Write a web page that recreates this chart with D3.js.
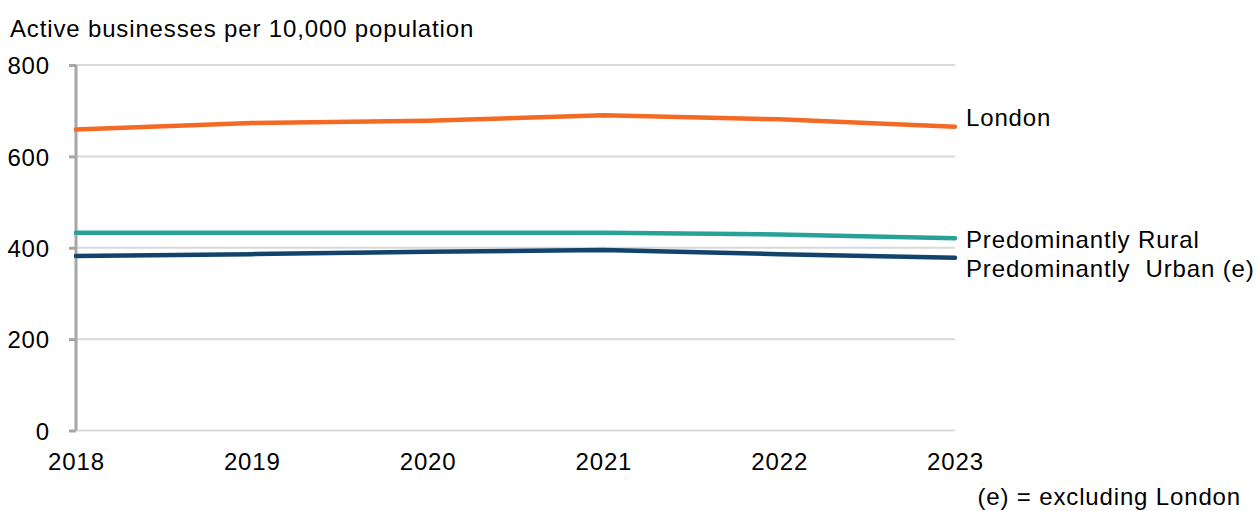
<!DOCTYPE html>
<html><head><meta charset="utf-8">
<script src="https://cdn.jsdelivr.net/npm/d3@7/dist/d3.min.js"></script>
<style>body{margin:0;background:#fff}svg{display:block}text{font-family:"Liberation Sans",Arial,sans-serif;fill:#000;letter-spacing:0.85px}</style>
</head><body><svg id="c" width="1258" height="511"></svg>
<script>
const years = [2018, 2019, 2020, 2021, 2022, 2023];
const london = [659, 673, 678, 690, 681, 665];
const rural = [433, 433, 433, 433, 429, 421];
const urban = [382, 386, 391, 395, 386, 378];
const seriesNames = ["London", "Predominantly Rural", "Predominantly  Urban (e)"];
const seriesColors = ["#f46a25", "#28a197", "#12436d"];
const yTicks = [0, 200, 400, 600, 800];

const svg = d3.select("#c");
const fs = 24;
const x = d3.scalePoint().domain(years).range([76, 955]);
const y = d3.scaleLinear().domain([0, 800]).range([430.5, 65]);

// gridlines
svg.append("g").selectAll("line").data(yTicks).join("line")
  .attr("x1", 76).attr("x2", 955)
  .attr("y1", d => y(d)).attr("y2", d => y(d))
  .attr("stroke", "#d9d9d9").attr("stroke-width", 2);

// y axis
const yAxis = svg.append("g").attr("transform", "translate(76,0)")
  .call(d3.axisLeft(y).tickValues(yTicks).tickSize(7).tickPadding(19));
yAxis.select(".domain").attr("stroke", "#a6a6a6").attr("stroke-width", 3)
  .attr("d", `M0,${y(800)}V${y(0)}`);
yAxis.selectAll(".tick line").attr("stroke", "#a6a6a6").attr("stroke-width", 3);
yAxis.selectAll("text").style("font-size", fs + "px").attr("dy", "0.36em");

// x axis
const xAxis = svg.append("g").attr("transform", `translate(0,${y(0)})`)
  .call(d3.axisBottom(x).tickSize(0).tickPadding(22).tickFormat(d3.format("d")));
xAxis.select(".domain").remove();
xAxis.selectAll("text").style("font-size", fs + "px").attr("dy", "0.71em");

const data = [london, rural, urban];
const line = d3.line().x((d, i) => x(years[i])).y(d => y(d));
svg.append("g").selectAll("path").data(data).join("path")
  .attr("d", line).attr("fill", "none")
  .attr("stroke", (d, i) => seriesColors[i]).attr("stroke-width", 4.5)
  .attr("stroke-linecap", "round").attr("stroke-linejoin", "round");

// series labels
const labelBase = [126, 248, 277];
svg.append("g").selectAll("text").data(seriesNames).join("text")
  .attr("x", 966).attr("y", (d, i) => labelBase[i])
  .style("font-size", fs + "px").style("white-space", "pre").text(d => d);

svg.append("text").attr("x", 10).attr("y", 37).style("font-size", fs + "px")
  .text("Active businesses per 10,000 population");
svg.append("text").attr("x", 1241).attr("y", 505).attr("text-anchor", "end")
  .style("font-size", fs + "px").text("(e) = excluding London");
</script></body></html>
